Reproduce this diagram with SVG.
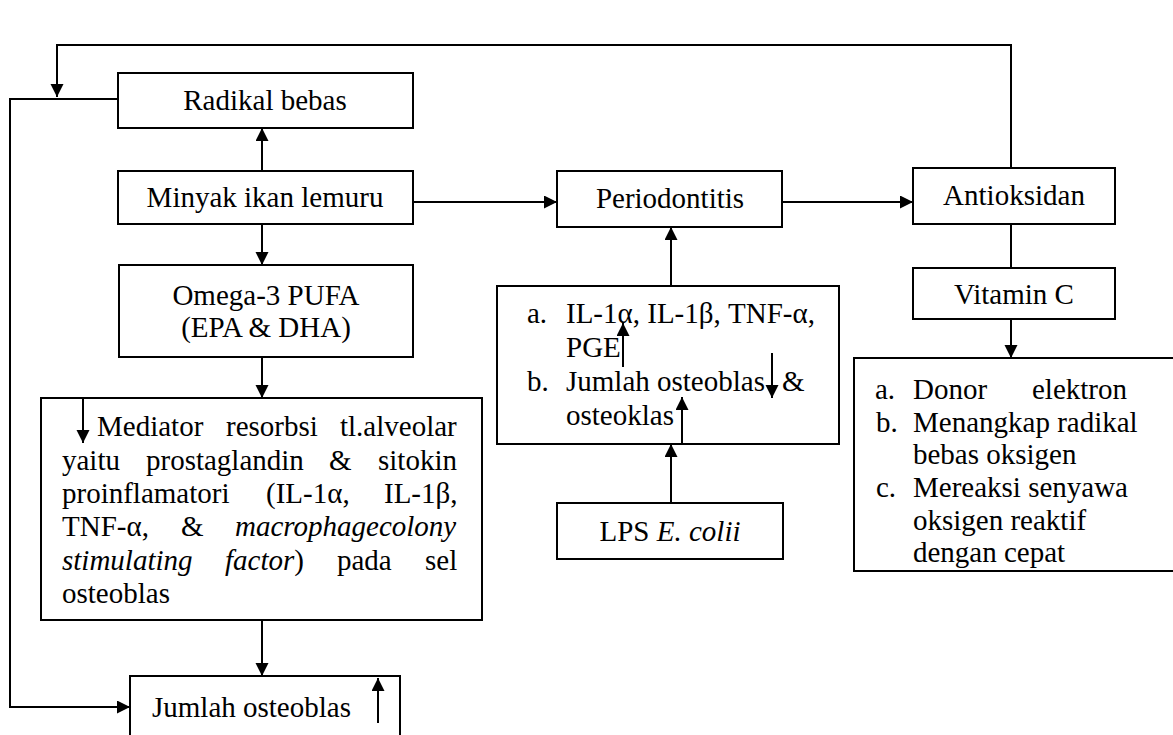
<svg xmlns="http://www.w3.org/2000/svg" width="1173" height="735" viewBox="0 0 1173 735">
<defs>
<style>
.box{fill:#fff;stroke:#000;stroke-width:2}
.ln{fill:none;stroke:#000;stroke-width:2}
.t{font-family:"Liberation Serif","Times New Roman",serif;font-size:29px;fill:#000}
.i{font-style:italic}
.c{text-anchor:middle}
</style>
<marker id="ah" markerUnits="userSpaceOnUse" markerWidth="14" markerHeight="14" refX="13" refY="6.5" orient="auto">
<path d="M0,0 L13,6.5 L0,13 z" fill="#000"/>
</marker>
</defs>
<rect width="1173" height="735" fill="#fff"/>

<g id="connectors">
<polyline class="ln" points="1011,168 1011,45 57,45 57,97" marker-end="url(#ah)"/>
<polyline class="ln" points="118,99 10,99 10,707 130,707" marker-end="url(#ah)"/>
<line class="ln" x1="262" y1="171" x2="262" y2="128" marker-end="url(#ah)"/>
<line class="ln" x1="262" y1="224" x2="262" y2="265" marker-end="url(#ah)"/>
<line class="ln" x1="262" y1="357" x2="262" y2="398" marker-end="url(#ah)"/>
<line class="ln" x1="262" y1="620" x2="262" y2="676" marker-end="url(#ah)"/>
<line class="ln" x1="413" y1="202" x2="557" y2="202" marker-end="url(#ah)"/>
<line class="ln" x1="782" y1="202" x2="913" y2="202" marker-end="url(#ah)"/>
<line class="ln" x1="671" y1="286" x2="671" y2="227" marker-end="url(#ah)"/>
<line class="ln" x1="671" y1="503" x2="671" y2="444" marker-end="url(#ah)"/>
<line class="ln" x1="1011" y1="224" x2="1011" y2="268"/>
<line class="ln" x1="1011" y1="319" x2="1011" y2="358" marker-end="url(#ah)"/>
</g>

<g id="radikal-bebas">
<rect class="box" x="118" y="73" width="295" height="55"/>
<text class="t c" x="265" y="110">Radikal bebas</text>
</g>

<g id="minyak-ikan-lemuru">
<rect class="box" x="118" y="171" width="295" height="53"/>
<text class="t c" x="265" y="207">Minyak ikan lemuru</text>
</g>

<g id="omega-3">
<rect class="box" x="119" y="265" width="294" height="92"/>
<text class="t c" x="266" y="305">Omega-3 PUFA</text>
<text class="t c" x="266" y="337">(EPA &amp; DHA)</text>
</g>

<g id="mediator">
<rect class="box" x="41" y="398" width="441" height="222"/>
<line class="ln" x1="83" y1="398" x2="83" y2="443" marker-end="url(#ah)"/>
<text class="t" y="436"><tspan x="97">Mediator</tspan><tspan x="226">resorbsi</tspan><tspan x="340">tl.alveolar</tspan></text>
<text class="t" y="469.5"><tspan x="62">yaitu</tspan><tspan x="146">prostaglandin</tspan><tspan x="329">&amp;</tspan><tspan x="378">sitokin</tspan></text>
<text class="t" y="503"><tspan x="62">proinflamatori</tspan><tspan x="266">(IL-1α,</tspan><tspan x="384">IL-1β,</tspan></text>
<text class="t" y="536"><tspan x="62">TNF-α,</tspan><tspan x="181">&amp;</tspan><tspan class="i" x="235">macrophagecolony</tspan></text>
<text class="t" y="569.5"><tspan class="i" x="62">stimulating</tspan><tspan class="i" x="225">factor</tspan><tspan>)</tspan><tspan x="337">pada</tspan><tspan x="425">sel</tspan></text>
<text class="t" x="62" y="603">osteoblas</text>
</g>

<g id="jumlah-osteoblas">
<rect class="box" x="130" y="676" width="270" height="70"/>
<text class="t" x="152" y="717">Jumlah osteoblas</text>
<line class="ln" x1="378" y1="723" x2="378" y2="678" marker-end="url(#ah)"/>
</g>

<g id="periodontitis">
<rect class="box" x="557" y="171" width="225" height="56"/>
<text class="t c" x="670" y="208">Periodontitis</text>
</g>

<g id="sitokin-box">
<rect class="box" x="497" y="286" width="342" height="158"/>
<text class="t" x="527" y="323">a.</text>
<text class="t" x="566" y="323">IL-1α, IL-1β, TNF-α,</text>
<text class="t" x="566" y="357">PGE</text>
<text class="t" x="527" y="391">b.</text>
<text class="t" x="566" y="391">Jumlah osteoblas</text>
<text class="t" x="782" y="391">&amp;</text>
<text class="t" x="566" y="425">osteoklas</text>
<line class="ln" x1="623" y1="367" x2="623" y2="323" marker-end="url(#ah)"/>
<line class="ln" x1="772" y1="353" x2="772" y2="398" marker-end="url(#ah)"/>
<line class="ln" x1="682" y1="444" x2="682" y2="397" marker-end="url(#ah)"/>
</g>

<g id="lps">
<rect class="box" x="557" y="503" width="226" height="56"/>
<text class="t c" x="670" y="541">LPS <tspan class="i">E. colii</tspan></text>
</g>

<g id="antioksidan">
<rect class="box" x="913" y="168" width="202" height="56"/>
<text class="t c" x="1014" y="205">Antioksidan</text>
</g>

<g id="vitamin-c">
<rect class="box" x="913" y="268" width="202" height="51"/>
<text class="t c" x="1014" y="304">Vitamin C</text>
</g>

<g id="fungsi-vitamin-c">
<rect class="box" x="854" y="358" width="330" height="213"/>
<text class="t" x="875" y="399">a.</text>
<text class="t" y="399"><tspan x="913">Donor</tspan><tspan x="1032">elektron</tspan></text>
<text class="t" x="876" y="431.5">b.</text>
<text class="t" x="913" y="431.5">Menangkap radikal</text>
<text class="t" x="913" y="464">bebas oksigen</text>
<text class="t" x="876" y="497">c.</text>
<text class="t" x="913" y="497">Mereaksi senyawa</text>
<text class="t" x="913" y="529.5">oksigen reaktif</text>
<text class="t" x="913" y="562">dengan cepat</text>
</g>
</svg>
